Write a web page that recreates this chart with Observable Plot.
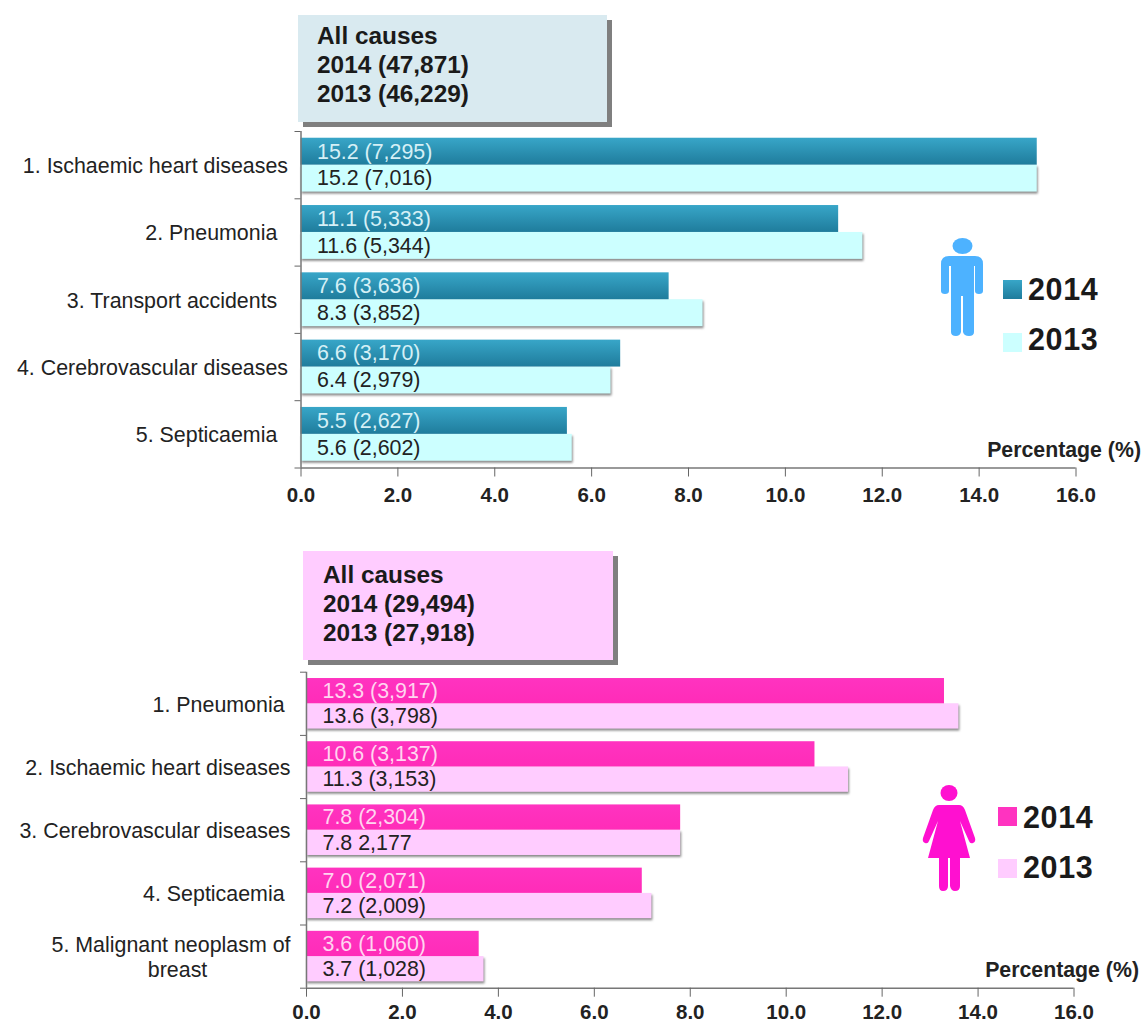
<!DOCTYPE html>
<html>
<head>
<meta charset="utf-8">
<script src="https://cdn.jsdelivr.net/npm/d3@7"></script>
<script src="https://cdn.jsdelivr.net/npm/@observablehq/plot@0.6"></script>
<style>
html,body{margin:0;padding:0;background:#fff;}
#page{position:relative;width:1144px;height:1022px;overflow:hidden;font-family:"Liberation Sans",Arial,sans-serif;color:#1a1a1a;}
#page svg{display:block;}
.plot{position:absolute;left:0;}
.box{position:absolute;box-sizing:border-box;font-weight:bold;font-size:24.4px;line-height:29px;}
.sq{position:absolute;width:19px;height:19px;}
.lg{position:absolute;font-weight:bold;font-size:30.5px;line-height:30px;letter-spacing:.6px;}
.icon{position:absolute;}
.bar-shadow{filter:drop-shadow(1.5px 2.5px 1.2px rgba(60,60,60,.6));}
</style>
</head>
<body>
<div id="page"></div>
<script>
// Male
const maleCauses = ["1. Ischaemic heart diseases","2. Pneumonia\u2002","3. Transport accidents\u2002","4. Cerebrovascular diseases","5. Septicaemia\u2002"];
const male2014 = [15.2,11.1,7.6,6.6,5.5];
const male2013 = [15.2,11.6,8.3,6.4,5.6];
const male2014Labels = ["15.2 (7,295)","11.1 (5,333)","7.6 (3,636)","6.6 (3,170)","5.5 (2,627)"];
const male2013Labels = ["15.2 (7,016)","11.6 (5,344)","8.3 (3,852)","6.4 (2,979)","5.6 (2,602)"];
const maleBox = ["All causes","2014 (47,871)","2013 (46,229)"];
// Female
const femaleCauses = ["1. Pneumonia\u00A0","2. Ischaemic heart diseases","3. Cerebrovascular diseases","4. Septicaemia\u00A0","5. Malignant neoplasm of\nbreast"+"\u00A0".repeat(14)];
const female2014 = [13.3,10.6,7.8,7.0,3.6];
const female2013 = [13.6,11.3,7.8,7.2,3.7];
const female2014Labels = ["13.3 (3,917)","10.6 (3,137)","7.8 (2,304)","7.0 (2,071)","3.6 (1,060)"];
const female2013Labels = ["13.6 (3,798)","11.3 (3,153)","7.8 2,177","7.2 (2,009)","3.7 (1,028)"];
const femaleBox = ["All causes","2014 (29,494)","2013 (27,918)"];
const xTicks = [0,2,4,6,8,10,12,14,16];
const years = ["2014","2013"];
const axisTitle = "Percentage (%)";

function chart({causes,v14,v13,l14,l13,fill14,fill13,text14,grad,top,height,mL,mR,mT,mB,tickPad,catPad}){
  const idx = d3.range(causes.length);
  const rows14 = idx.map(i=>({i,v:v14[i],l:l14[i]}));
  const rows13 = idx.map(i=>({i,v:v13[i],l:l13[i]}));
  const labelFont = {fontSize:21.4,fontFamily:"Liberation Sans"};
  const p = Plot.plot({
    width:1144,height,marginLeft:mL,marginRight:mR,marginTop:mT,marginBottom:mB,
    style:{background:"transparent",overflow:"visible",fontFamily:"Liberation Sans"},
    x:{domain:[0,16]},
    y:{domain:[0,causes.length],reverse:true},
    marks:[
      () => {
        const defs = d3.create("svg:defs");
        const g = defs.append("linearGradient").attr("id",grad).attr("x1",0).attr("x2",0).attr("y1",0).attr("y2",1);
        g.append("stop").attr("offset","0%").attr("stop-color",fill14[0]);
        g.append("stop").attr("offset","100%").attr("stop-color",fill14[1]);
        return defs.node();
      },
      Plot.rect(rows13,{x1:()=>0,x2:"v",y1:d=>d.i+.5,y2:d=>d.i+.9,fill:fill13,className:"bar-shadow"}),
      Plot.rect(rows14,{x1:()=>0,x2:"v",y1:d=>d.i+.1,y2:d=>d.i+.5,fill:`url(#${grad})`}),
      Plot.text(rows14,{x:()=>0,y:d=>d.i+.3,text:"l",dx:16,textAnchor:"start",fill:text14,...labelFont}),
      Plot.text(rows13,{x:()=>0,y:d=>d.i+.7,text:"l",dx:16,textAnchor:"start",fill:"#222",...labelFont}),
      Plot.ruleX([0],{stroke:"#777",strokeWidth:1.5}),
      Plot.ruleY([causes.length],{stroke:"#777",strokeWidth:1.5}),
      Plot.axisY(d3.range(causes.length+1),{tickSize:6,tickFormat:()=>"",stroke:"#666",label:null}),
      Plot.axisY(idx.map(i=>i+.5),{tickSize:0,tickPadding:catPad,tickFormat:d=>causes[Math.floor(d)],fill:"#222",label:null,lineHeight:1.15,...labelFont}),
      Plot.axisX(xTicks,{tickSize:9,tickPadding:tickPad,tickFormat:d3.format(".1f"),stroke:"#666",fill:"#222",fontSize:20.5,fontWeight:"bold",label:null}),
      Plot.text([axisTitle],{x:()=>16,y:()=>causes.length,dx:65,dy:-18,textAnchor:"end",fill:"#222",fontWeight:"bold",fontSize:21.3})
    ]
  });
  p.classList.add("plot");
  p.style.top = top+"px";
  p.style.position = "absolute";
  return p;
}

const page = document.getElementById("page");
page.append(chart({causes:maleCauses,v14:male2014,v13:male2013,l14:male2014Labels,l13:male2013Labels,
  fill14:["#38a6c8","#1f7c9c"],fill13:"#ccffff",text14:"#d5f0f6",grad:"gm",
  top:0,height:510,mL:300.5,mR:68.5,mT:131,mB:42.5,tickPad:10,catPad:13}));
page.append(chart({causes:femaleCauses,v14:female2014,v13:female2013,l14:female2014Labels,l13:female2013Labels,
  fill14:["#ff33c0","#ff2cb8"],fill13:"#ffccff",text14:"#ffd5f0",grad:"gf",
  top:510,height:512,mL:306,mR:70.5,mT:161.7,mB:34.3,tickPad:7,catPad:16}));

function box(lines,l,t,w,h,bg,tl,tt){
  const d=document.createElement("div");d.className="box";
  d.style.cssText=`left:${l}px;top:${t}px;width:${w}px;height:${h}px;background:${bg};box-shadow:5px 5px 0 #7f7f7f;padding:${tt}px 0 0 ${tl}px;`;
  d.innerHTML=lines.join("<br>");page.append(d);
}
box(maleBox,298,15,309,107,"#d9eaf0",19,6);
box(femaleBox,303,551,310,109,"#ffccff",20,9);

function legend(items){
  items.forEach(([l,t,bg,tl,tt,txt])=>{
    const s=document.createElement("div");s.className="sq";s.style.cssText=`left:${l}px;top:${t}px;background:${bg};`;page.append(s);
    const e=document.createElement("div");e.className="lg";e.style.cssText=`left:${tl}px;top:${tt}px;`;e.textContent=txt;page.append(e);
  });
}
legend([[1003,280,"linear-gradient(#38a6c8,#1f7c9c)",1028,274,years[0]],[1003,333,"#ccffff",1028,324,years[1]],
        [998,807,"#ff33c0",1023,802,years[0]],[998,859,"#ffccff",1023,852,years[1]]]);

function icon(l,t,w,h,color,head,path){
  const d=document.createElement("div");d.className="icon";d.style.cssText=`left:${l}px;top:${t}px;`;
  d.innerHTML=`<svg width="${w}" height="${h}" viewBox="0 0 ${w} ${h}"><ellipse ${head} fill="${color}"/><path fill="${color}" d="${path}"/></svg>`;
  page.append(d);
}
icon(941,238,42,98,"#4db2ff",'cx="21.5" cy="8" rx="10" ry="8"',
 "M8 18H34Q42 18 42 26V53Q42 56 38 56Q34 56 34 53V28H33V94Q33 98 28 98Q23 98 22 94V58H20V94Q19 98 15 98Q10 98 10 94V28H8V53Q8 56 4 56Q0 56 0 53V26Q0 18 8 18Z");
icon(922,785,54,106,"#ff10d0",'cx="27" cy="8" rx="8.5" ry="8"',
 "M17 20H37Q41 20 43 25L53 53Q54 57 51 58Q48 59 47 56L38 36L48 73H38V101Q38 106 33 106Q29 106 28 101V73H26V101Q26 106 21 106Q17 106 17 101V73H6L16 36L7 56Q6 59 3 58Q0 57 1 53L11 25Q13 20 17 20Z");
</script>
</body>
</html>
